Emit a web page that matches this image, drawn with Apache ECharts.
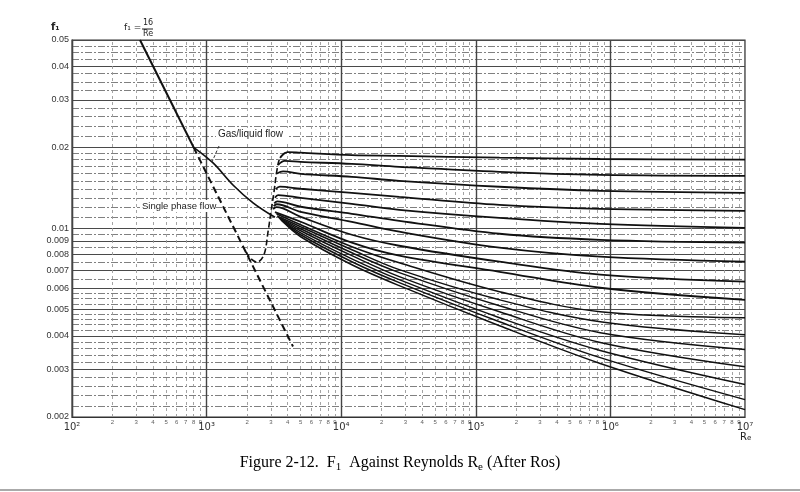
<!DOCTYPE html>
<html><head><meta charset="utf-8">
<script src="https://cdn.jsdelivr.net/npm/echarts@6/dist/echarts.min.js"></script>
<style>html,body{margin:0;padding:0;background:#fff}#c{width:800px;height:492px}</style>
</head><body><div id="c"></div>
<script>
// ---- tick labels ----
const yTickLabels = [0.002,0.003,0.004,0.005,0.006,0.007,0.008,0.009,0.01,0.02,0.03,0.04,0.05];
const xDecades = [100,1000,10000,100000,1000000,10000000];
const xDecadeLabels = ['10²','10³','10⁴','10⁵','10⁶','10⁷'];
const xMinorDigits = [2,3,4,5,6,7,8,9];

// ---- reference lines (Re, f1) ----
const laminarSolid = [[320,0.05],[800,0.02]];
const laminarDashed = [[800,0.02],[4385,0.00365]];
const gasLiquidSolid = [[800,0.02],[1117,0.0175],[1570,0.0145],[2213,0.01245],[3220,0.0110]];
const transitionDashed = [[1950,0.0082],[2150,0.0077],[2370,0.0075],[2670,0.0080],[2858,0.0097],[3009,0.01153],[3168,0.01368],[3335,0.0165],[3510,0.01828],[3820,0.01908]];

// ---- family of gas/liquid curves ----
const bundleRe = [5000,12000,27000,150000,840000,10000000];
const c1Start = [[3510,0.01828],[4000,0.0192]];   const c1 = [0.0191,0.0187,0.0186,0.0183,0.0181,0.0180];
const c2Start = [[3400,0.0172],[3800,0.0178]];    const c2 = [0.01766,0.01736,0.01693,0.01622,0.01581,0.01568];
const c3Start = [[3330,0.0160],[3700,0.0163]];    const c3 = [0.01595,0.01555,0.01503,0.01428,0.01379,0.01356];
const c4Start = [[3260,0.0140],[3500,0.0143]];    const c4 = [0.01404,0.01356,0.01311,0.01224,0.01183,0.01163];
const c5Start = [[3220,0.0130],[3400,0.0133]];    const c5 = [0.01299,0.01234,0.01173,0.01095,0.01041,0.01006];
const c6Start = [[3180,0.0124],[3350,0.0126]];    const c6 = [0.01204,0.01134,0.01068,0.00956,0.00908,0.00886];
const c7Start = [[3150,0.0121],[3320,0.0123]];    const c7 = [0.01153,0.01059,0.00973,0.00849,0.00786,0.00753];
const c8Start = [[3120,0.0118],[3300,0.0120]];    const c8 = [0.01105,0.00948,0.00863,0.00753,0.00674,0.00635];
const c9Start = [[3220,0.0115]];                  const c9 = [0.01059,0.00886,0.00793,0.00691,0.00603,0.00544];
const c10Start = [[3300,0.01134]];                const c10 = [0.01032,0.00856,0.00746,0.00583,0.00491,0.00467];
const c11Start = [[3335,0.01114]];                const c11 = [0.01015,0.00834,0.00704,0.00544,0.00451,0.00404];
const c12Start = [[3393,0.01105]];                const c12 = [0.00998,0.00813,0.00686,0.00517,0.00411,0.00356];
const c13Start = [[3451,0.01095]];                const c13 = [0.00981,0.00793,0.00663,0.00491,0.00378,0.00307];
const c14Start = [[3510,0.01086]];                const c14 = [0.00964,0.00772,0.00646,0.00467,0.00353,0.00264];
const c15Start = [[3570,0.01077]];                const c15 = [0.00948,0.00753,0.00630,0.00451,0.00332,0.00232];
const c16Start = [[3631,0.01068]];                const c16 = [0.00932,0.00734,0.00614,0.00436,0.00316,0.00213];

const curves = [
  [c1Start,c1],[c2Start,c2],[c3Start,c3],[c4Start,c4],[c5Start,c5],[c6Start,c6],[c7Start,c7],[c8Start,c8],
  [c9Start,c9],[c10Start,c10],[c11Start,c11],[c12Start,c12],[c13Start,c13],[c14Start,c14],[c15Start,c15],[c16Start,c16]
];

// ---- grid lines of the log paper ----
const majorStyle = {color:'#4a4a4a', width:1.2, type:'solid', opacity:1};
const minorStyle = {color:'#808080', width:1, type:[7,2,2,2], opacity:1};
const vMajorStyle = {color:'#444', width:1.4, type:'solid', opacity:1};
const vMinorStyle = {color:'#9a9a9a', width:0.9, type:[3,3], opacity:1};
const r = v => Math.round(v*1e7)/1e7;
const majorSet = new Set(yTickLabels.map(r));
const gridItems = [];
const X0 = xDecades[0], X1 = xDecades[xDecades.length-1];
const Y0 = yTickLabels[0], Y1 = yTickLabels[yTickLabels.length-1];
[[0.002,0.005,0.0002],[0.005,0.006,0.00025],[0.006,0.01,0.0005],[0.01,0.02,0.001],[0.02,0.03,0.002],[0.03,0.05,0.0025]].forEach(([a,b,s])=>{
  const n = Math.round((b-a)/s);
  for (let i=1; i<n; i++) {
    const rv = r(a + i*s);
    if (!majorSet.has(rv)) gridItems.push({coords:[[X0,rv],[X1,rv]], lineStyle: minorStyle});
  }
});
yTickLabels.forEach(v => gridItems.push({coords:[[X0,v],[X1,v]], lineStyle: majorStyle}));
const minorLabelData = [];
xDecades.slice(0,5).forEach(d => xMinorDigits.forEach(m => {
  gridItems.push({coords:[[m*d,Y0],[m*d,Y1]], lineStyle: vMinorStyle});
  minorLabelData.push({value:[m*d, Y0], digit: m});
}));
xDecades.forEach(d => gridItems.push({coords:[[d,Y0],[d,Y1]], lineStyle: vMajorStyle}));

const series = [];
series.push({type:'lines', coordinateSystem:'cartesian2d', polyline:false, silent:true, z:1,
  effect:{show:false}, lineStyle:{opacity:1}, data: gridItems});

const solid = (data, w) => ({type:'line', data, symbol:'none', smooth:0.35, lineStyle:{color:'#111', width:w}, z:5, silent:true});
series.push(solid(laminarSolid, 2));
series.push(Object.assign(solid(laminarDashed, 2), {smooth:false, lineStyle:{color:'#111', width:2, type:[7,4]}}));
series.push(solid(gasLiquidSolid, 1.7));
series.push(Object.assign(solid(transitionDashed, 1.6), {lineStyle:{color:'#111', width:1.6, type:[6,3]}}));
curves.forEach(([st, vals], k) => {
  const data = st.concat(bundleRe.map((x,i) => [x, vals[i]]));
  series.push(solid(data, k < 9 ? 1.8 : 1.5));
});
series.push({type:'scatter', data: minorLabelData, symbolSize:0, clip:false, silent:true,
  label:{show:true, position:'bottom', distance:2, fontSize:6, color:'#333', fontFamily:'Liberation Sans',
    formatter: p => String(p.data.digit)}});

const chart = echarts.init(document.getElementById('c'));
chart.setOption({
  animation:false,
  backgroundColor:'#fff',
  grid:{left:72, right:55, top:40, bottom:75, show:true, borderColor:'#333', borderWidth:1.2},
  xAxis:{type:'log', logBase:10, min:100, max:10000000,
    axisLine:{show:true, lineStyle:{color:'#333', width:1.2}}, axisTick:{show:false}, splitLine:{show:false},
    axisLabel:{customValues: xDecades, fontSize:10, color:'#333', margin:5, fontFamily:'DejaVu Sans',
      formatter: v => xDecadeLabels[Math.round(Math.log10(v)) - 2]}},
  yAxis:{type:'log', logBase:10, min:0.002, max:0.05,
    axisLine:{show:true, lineStyle:{color:'#333', width:1.2}}, axisTick:{show:false}, splitLine:{show:false},
    axisLabel:{customValues: yTickLabels, fontSize:9, color:'#333', margin:3, fontFamily:'Liberation Sans',
      formatter: v => String(r(v))}},
  series,
  graphic:[
    {type:'text', left:51, top:22, style:{text:'f₁', fontSize:10, fontWeight:'bold', fill:'#222', fontFamily:'DejaVu Sans'}},
    {type:'text', left:124, top:23, style:{text:'f₁ =', fontSize:9, fill:'#222', fontFamily:'DejaVu Sans'}},
    {type:'text', left:143, top:19, style:{text:'16', fontSize:8, fill:'#222', fontFamily:'DejaVu Sans'}},
    {type:'line', shape:{x1:142, y1:29, x2:153, y2:29}, style:{stroke:'#222', lineWidth:1}},
    {type:'text', left:143, top:30, style:{text:'Re', fontSize:8, fill:'#222', fontFamily:'DejaVu Sans'}},
    {type:'rect', shape:{x:216, y:128, width:72, height:13}, style:{fill:'#fff'}, z:10},
    {type:'text', left:218, top:129, z:11, style:{text:'Gas/liquid flow', fontSize:10, fill:'#222', fontFamily:'Liberation Sans'}},
    {type:'line', shape:{x1:219, y1:146, x2:212, y2:162}, z:11, style:{stroke:'#333', lineWidth:1, lineDash:[3,2]}},
    {type:'rect', shape:{x:140, y:200, width:76, height:12}, style:{fill:'#fff'}, z:10},
    {type:'text', left:142, top:201, z:11, style:{text:'Single phase flow', fontSize:9.5, fill:'#222', fontFamily:'Liberation Sans'}},
    {type:'text', left:740, top:432, style:{rich:{a:{fontSize:10, fill:'#222', fontFamily:'DejaVu Sans'}, b:{fontSize:7, fill:'#222', verticalAlign:'bottom', fontFamily:'DejaVu Sans'}}, text:'{a|R}{b|e}'}},
    {type:'text', left:'center', top:455, style:{
      rich:{n:{fontSize:16, fill:'#000', fontFamily:'Liberation Serif', lineHeight:20},
            s:{fontSize:11, fill:'#000', fontFamily:'Liberation Serif', verticalAlign:'bottom', lineHeight:20, padding:[6,0,0,0]}},
      text:'{n|Figure 2-12.  F}{s|1}{n|  Against Reynolds R}{s|e}{n| (After Ros)}'}},
    {type:'rect', shape:{x:0, y:489, width:800, height:2}, style:{fill:'#aaa'}}
  ]
});
</script></body></html>
